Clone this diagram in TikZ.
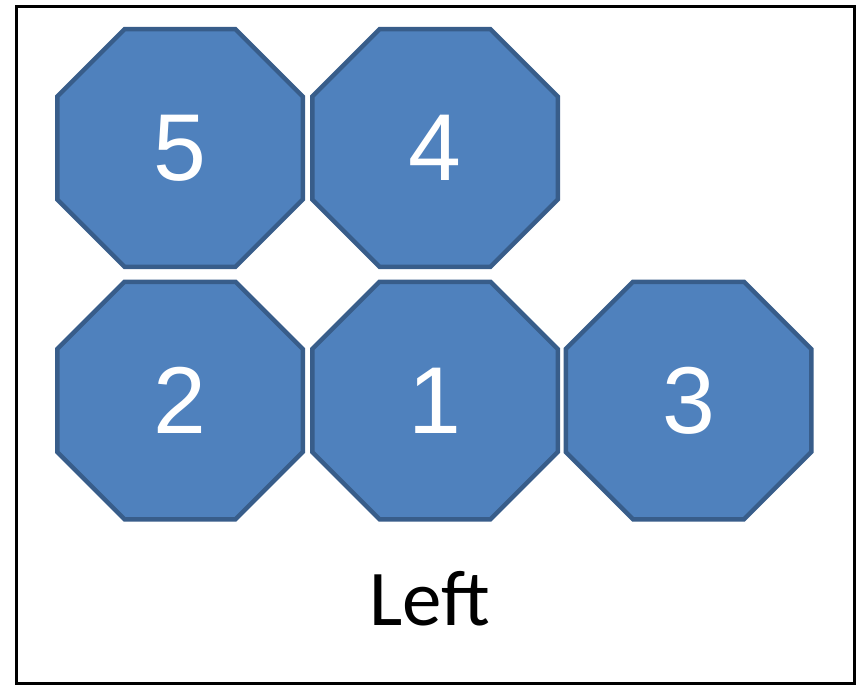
\documentclass[tikz,border=0pt]{standalone}
\usepackage{fontspec}
\setmainfont{Liberation Sans}
\newfontfamily\carlito{Carlito}
\definecolor{octfill}{HTML}{4F81BD}
\definecolor{octline}{HTML}{385D8A}
\tikzset{
  octshape/.style={fill=octfill, draw=octline, line width=4.5pt, line join=miter},
  numtext/.style={text=white, font=\fontsize{95}{95}\selectfont, inner sep=0pt},
  frame/.style={draw=black, line width=3pt},
  caption/.style={font=\carlito\fontsize{79}{79}\selectfont, inner sep=0pt, text=black}
}
\newcommand\octo[4]{%
  \path[octshape] (#2-122.75,#3-51.5) -- (#2-55.5,#3-118.75) -- (#2+55.5,#3-118.75) -- (#2+122.75,#3-51.5)
    -- (#2+122.75,#3+51.5) -- (#2+55.5,#3+118.75) -- (#2-55.5,#3+118.75) -- (#2-122.75,#3+51.5) -- cycle;
  \node[numtext] (#1) at (#2,#3) {#4};}
\begin{document}
\begin{tikzpicture}[x=1pt,y=-1pt]
\useasboundingbox (0,0) rectangle (863,685);
\fill[white] (0,0) rectangle (863,685);
\draw[frame] (16.5,6.5) rectangle (854.5,683.5);
\octo{n5}{180}{148}{5}
\octo{n4}{435}{148}{4}
\octo{n2}{180}{400.5}{2}
\octo{n1}{435}{400.5}{1}
\octo{n3}{688.5}{400.5}{3}
\node[caption, anchor=base] (left) at (430,625) {Left};
\end{tikzpicture}
\end{document}
